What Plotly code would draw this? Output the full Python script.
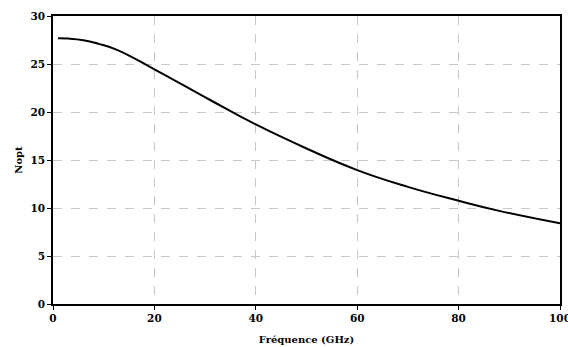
import plotly.graph_objects as go

freq_ghz = [1, 3, 6, 9, 12.5, 20, 31, 40, 50, 60, 70, 80, 88, 100]
nopt = [27.68, 27.65, 27.48, 27.1, 26.5, 24.45, 21.25, 18.7, 16.2, 13.95, 12.2, 10.75, 9.7, 8.4]

x_ticks = [0, 20, 40, 60, 80, 100]
y_ticks = [0, 5, 10, 15, 20, 25, 30]

font_family = "DejaVu Serif"

fig = go.Figure()
fig.add_trace(go.Scatter(
    x=freq_ghz, y=nopt, mode="lines",
    line=dict(color="black", width=2, shape="spline", smoothing=1.3),
    showlegend=False,
))

axis_common = dict(
    showline=True, linecolor="black", linewidth=1.5, mirror=True,
    ticks="outside", ticklen=4, tickcolor="black", tickwidth=1,
    showgrid=True, gridcolor="#c8c8c8", griddash="dash", gridwidth=1,
    zeroline=False, automargin=False, ticklabeloverflow="allow",
    tickfont=dict(family=font_family, size=10.5, color="black"),
)

fig.update_xaxes(
    range=[0, 100], tickvals=x_ticks, ticktext=[f"<b>{v}</b>" for v in x_ticks],
    title=dict(text="<b>Fréquence (GHz)</b>", standoff=13,
               font=dict(family=font_family, size=10, color="black")),
    **axis_common,
)
fig.update_yaxes(
    range=[0, 30], tickvals=y_ticks, ticktext=[f"<b>{v}</b>" for v in y_ticks],
    title=dict(text="<b>Nopt</b>", standoff=6,
               font=dict(family=font_family, size=10, color="black")),
    **axis_common,
)

fig.update_layout(
    width=568, height=347,
    margin=dict(l=53, r=8, t=16, b=43),
    paper_bgcolor="white", plot_bgcolor="white",
    font=dict(family=font_family, size=10, color="black"),
)

fig.write_html("out.html", config={"displayModeBar": False},
               post_script="document.body.style.margin='0';document.body.style.overflow='hidden';")
